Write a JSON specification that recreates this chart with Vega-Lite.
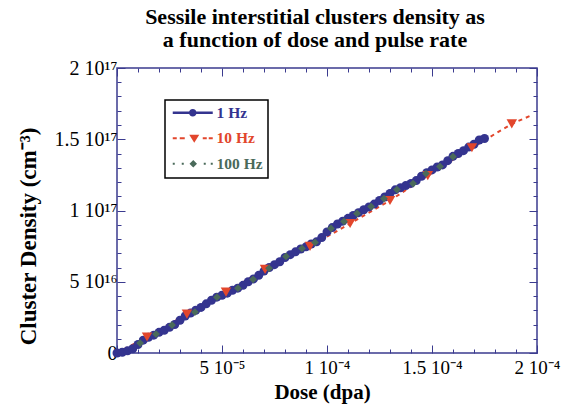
{
  "$schema": "https://vega.github.io/schema/vega-lite/v6.json",
  "width": 420,
  "height": 285,
  "autosize": {"type": "none"},
  "padding": {"left": 117, "top": 68, "right": 33, "bottom": 52},
  "background": "white",
  "title": {
    "text": ["Sessile interstitial clusters density as", " a function of dose and pulse rate"],
    "font": "Liberation Serif", "fontSize": 22, "fontWeight": "bold", "color": "black",
    "lineHeight": 23, "anchor": "middle", "dx": -12, "offset": 6
  },
  "config": {
    "view": {"stroke": "#3b3b8f", "strokeWidth": 1.5},
    "axis": {
      "domain": false, "grid": false, "tickColor": "#3b3b8f", "tickWidth": 1,
      "labelFont": "Liberation Serif", "labelFontSize": 20, "labelColor": "black",
      "labelOverlap": false, "labelFlush": false, "labelBound": false,
      "titleFont": "Liberation Serif", "titleFontSize": 21, "titleFontWeight": "bold", "titleColor": "black"
    },
    "legend": {
      "orient": "none", "legendX": 48, "legendY": 32, "padding": 5,
      "strokeColor": "black", "fillColor": "white",
      "labelFont": "Liberation Serif", "labelFontSize": 15.5, "labelFontWeight": "bold",
      "symbolSize": 100, "labelOffset": 31, "rowPadding": 8.5
    }
  },
  "data": {
    "values": [
      {"series": "1 Hz", "dose": 0, "density": 0},
      {"series": "1 Hz", "dose": 2.5e-6, "density": 5e14},
      {"series": "1 Hz", "dose": 5e-6, "density": 1.5e15},
      {"series": "1 Hz", "dose": 7.5e-6, "density": 3e15},
      {"series": "1 Hz", "dose": 1e-5, "density": 6e15},
      {"series": "1 Hz", "dose": 1.25e-5, "density": 9e15},
      {"series": "1 Hz", "dose": 1.5e-5, "density": 1.1e16},
      {"series": "1 Hz", "dose": 1.75e-5, "density": 1.25e16},
      {"series": "1 Hz", "dose": 2e-5, "density": 1.45e16},
      {"series": "1 Hz", "dose": 2.25e-5, "density": 1.6e16},
      {"series": "1 Hz", "dose": 2.5e-5, "density": 1.8e16},
      {"series": "1 Hz", "dose": 2.75e-5, "density": 2.0e16},
      {"series": "1 Hz", "dose": 3e-5, "density": 2.3e16},
      {"series": "1 Hz", "dose": 3.25e-5, "density": 2.6e16},
      {"series": "1 Hz", "dose": 3.5e-5, "density": 2.8e16},
      {"series": "1 Hz", "dose": 3.75e-5, "density": 3.0e16},
      {"series": "1 Hz", "dose": 4e-5, "density": 3.2e16},
      {"series": "1 Hz", "dose": 4.25e-5, "density": 3.45e16},
      {"series": "1 Hz", "dose": 4.5e-5, "density": 3.7e16},
      {"series": "1 Hz", "dose": 4.75e-5, "density": 3.92e16},
      {"series": "1 Hz", "dose": 5e-5, "density": 4.05e16},
      {"series": "1 Hz", "dose": 5.25e-5, "density": 4.2e16},
      {"series": "1 Hz", "dose": 5.5e-5, "density": 4.4e16},
      {"series": "1 Hz", "dose": 5.75e-5, "density": 4.55e16},
      {"series": "1 Hz", "dose": 6e-5, "density": 4.75e16},
      {"series": "1 Hz", "dose": 6.25e-5, "density": 5.0e16},
      {"series": "1 Hz", "dose": 6.5e-5, "density": 5.2e16},
      {"series": "1 Hz", "dose": 6.75e-5, "density": 5.45e16},
      {"series": "1 Hz", "dose": 7e-5, "density": 5.75e16},
      {"series": "1 Hz", "dose": 7.25e-5, "density": 6.0e16},
      {"series": "1 Hz", "dose": 7.5e-5, "density": 6.2e16},
      {"series": "1 Hz", "dose": 7.75e-5, "density": 6.4e16},
      {"series": "1 Hz", "dose": 8e-5, "density": 6.7e16},
      {"series": "1 Hz", "dose": 8.25e-5, "density": 6.9e16},
      {"series": "1 Hz", "dose": 8.5e-5, "density": 7.1e16},
      {"series": "1 Hz", "dose": 8.75e-5, "density": 7.3e16},
      {"series": "1 Hz", "dose": 9e-5, "density": 7.45e16},
      {"series": "1 Hz", "dose": 9.25e-5, "density": 7.65e16},
      {"series": "1 Hz", "dose": 9.5e-5, "density": 7.8e16},
      {"series": "1 Hz", "dose": 9.75e-5, "density": 8.1e16},
      {"series": "1 Hz", "dose": 1e-4, "density": 8.5e16},
      {"series": "1 Hz", "dose": 1.025e-4, "density": 8.8e16},
      {"series": "1 Hz", "dose": 1.05e-4, "density": 9.05e16},
      {"series": "1 Hz", "dose": 1.075e-4, "density": 9.25e16},
      {"series": "1 Hz", "dose": 1.1e-4, "density": 9.45e16},
      {"series": "1 Hz", "dose": 1.125e-4, "density": 9.65e16},
      {"series": "1 Hz", "dose": 1.15e-4, "density": 9.85e16},
      {"series": "1 Hz", "dose": 1.175e-4, "density": 1.005e17},
      {"series": "1 Hz", "dose": 1.2e-4, "density": 1.025e17},
      {"series": "1 Hz", "dose": 1.225e-4, "density": 1.045e17},
      {"series": "1 Hz", "dose": 1.25e-4, "density": 1.07e17},
      {"series": "1 Hz", "dose": 1.275e-4, "density": 1.095e17},
      {"series": "1 Hz", "dose": 1.3e-4, "density": 1.12e17},
      {"series": "1 Hz", "dose": 1.325e-4, "density": 1.145e17},
      {"series": "1 Hz", "dose": 1.35e-4, "density": 1.16e17},
      {"series": "1 Hz", "dose": 1.375e-4, "density": 1.175e17},
      {"series": "1 Hz", "dose": 1.4e-4, "density": 1.19e17},
      {"series": "1 Hz", "dose": 1.425e-4, "density": 1.21e17},
      {"series": "1 Hz", "dose": 1.45e-4, "density": 1.24e17},
      {"series": "1 Hz", "dose": 1.475e-4, "density": 1.265e17},
      {"series": "1 Hz", "dose": 1.5e-4, "density": 1.285e17},
      {"series": "1 Hz", "dose": 1.525e-4, "density": 1.305e17},
      {"series": "1 Hz", "dose": 1.55e-4, "density": 1.32e17},
      {"series": "1 Hz", "dose": 1.575e-4, "density": 1.35e17},
      {"series": "1 Hz", "dose": 1.6e-4, "density": 1.38e17},
      {"series": "1 Hz", "dose": 1.625e-4, "density": 1.4e17},
      {"series": "1 Hz", "dose": 1.65e-4, "density": 1.42e17},
      {"series": "1 Hz", "dose": 1.675e-4, "density": 1.445e17},
      {"series": "1 Hz", "dose": 1.7e-4, "density": 1.465e17},
      {"series": "1 Hz", "dose": 1.725e-4, "density": 1.495e17},
      {"series": "1 Hz", "dose": 1.75e-4, "density": 1.505e17},
      {"series": "10 Hz", "dose": 0, "density": 0},
      {"series": "10 Hz", "dose": 1.43e-5, "density": 1.12e16},
      {"series": "10 Hz", "dose": 3.33e-5, "density": 2.73e16},
      {"series": "10 Hz", "dose": 5.19e-5, "density": 4.27e16},
      {"series": "10 Hz", "dose": 7.05e-5, "density": 5.87e16},
      {"series": "10 Hz", "dose": 9.19e-5, "density": 7.48e16},
      {"series": "10 Hz", "dose": 1.11e-4, "density": 9.09e16},
      {"series": "10 Hz", "dose": 1.3e-4, "density": 1.07e17},
      {"series": "10 Hz", "dose": 1.48e-4, "density": 1.245e17},
      {"series": "10 Hz", "dose": 1.69e-4, "density": 1.44e17},
      {"series": "10 Hz", "dose": 1.88e-4, "density": 1.608e17},
      {"series": "10 Hz", "dose": 1.967e-4, "density": 1.664e17},
      {"series": "100 Hz", "dose": 0, "density": 0},
      {"series": "100 Hz", "dose": 1.1e-5, "density": 7.0e15},
      {"series": "100 Hz", "dose": 1.86e-5, "density": 1.33e16},
      {"series": "100 Hz", "dose": 2.62e-5, "density": 1.96e16},
      {"series": "100 Hz", "dose": 3.71e-5, "density": 2.87e16},
      {"series": "100 Hz", "dose": 4.76e-5, "density": 3.92e16},
      {"series": "100 Hz", "dose": 5.76e-5, "density": 4.55e16},
      {"series": "100 Hz", "dose": 6.48e-5, "density": 5.17e16},
      {"series": "100 Hz", "dose": 7.24e-5, "density": 5.94e16},
      {"series": "100 Hz", "dose": 8.05e-5, "density": 6.78e16},
      {"series": "100 Hz", "dose": 8.81e-5, "density": 7.34e16},
      {"series": "100 Hz", "dose": 9.43e-5, "density": 7.76e16},
      {"series": "100 Hz", "dose": 1.019e-4, "density": 8.74e16},
      {"series": "100 Hz", "dose": 1.081e-4, "density": 9.23e16},
      {"series": "100 Hz", "dose": 1.143e-4, "density": 9.79e16},
      {"series": "100 Hz", "dose": 1.21e-4, "density": 1.028e17},
      {"series": "100 Hz", "dose": 1.271e-4, "density": 1.084e17},
      {"series": "100 Hz", "dose": 1.333e-4, "density": 1.147e17},
      {"series": "100 Hz", "dose": 1.41e-4, "density": 1.189e17},
      {"series": "100 Hz", "dose": 1.471e-4, "density": 1.259e17},
      {"series": "100 Hz", "dose": 1.538e-4, "density": 1.308e17},
      {"series": "100 Hz", "dose": 1.6e-4, "density": 1.378e17}
    ]
  },
  "resolve": {"axis": {"x": "independent", "y": "independent"}},
  "layer": [
    {
      "transform": [{"filter": "datum.series === '10 Hz'"}],
      "mark": {"type": "line", "strokeWidth": 2, "strokeDash": [4, 4]},
      "encoding": {
        "x": {
          "field": "dose", "type": "quantitative",
          "scale": {"domain": [0, 0.0002], "nice": false},
          "axis": {
            "orient": "bottom", "title": "Dose (dpa)", "titleY": 45, "titleBaseline": "alphabetic", "titleX": 205,
            "values": [0, 1e-5, 2e-5, 3e-5, 4e-5, 5e-5, 6e-5, 7e-5, 8e-5, 9e-5, 1e-4, 1.1e-4, 1.2e-4, 1.3e-4, 1.4e-4, 1.5e-4, 1.6e-4, 1.7e-4, 1.8e-4, 1.9e-4, 2e-4],
            "tickSize": {"condition": {"test": "round(datum.value/1e-5) % 5 === 0", "value": -8}, "value": -4},
            "labelPadding": 13, "labelFontSize": 19,
            "labelExpr": "round(datum.value/1e-5) === 5 ? '5 10⁻⁵' : round(datum.value/1e-5) === 10 ? '1 10⁻⁴' : round(datum.value/1e-5) === 15 ? '1.5 10⁻⁴' : round(datum.value/1e-5) === 20 ? '2 10⁻⁴' : ''"
          }
        },
        "y": {
          "field": "density", "type": "quantitative",
          "scale": {"domain": [0, 2e17], "nice": false},
          "axis": {
            "orient": "left", "title": "Cluster Density (cm⁻³)", "titleFontSize": 23, "titleX": -89, "titleY": 168, "titleAngle": -90, "titleAlign": "center", "titleBaseline": "middle",
            "values": [0, 1e16, 2e16, 3e16, 4e16, 5e16, 6e16, 7e16, 8e16, 9e16, 1e17, 1.1e17, 1.2e17, 1.3e17, 1.4e17, 1.5e17, 1.6e17, 1.7e17, 1.8e17, 1.9e17, 2e17],
            "tickSize": {"condition": {"test": "round(datum.value/1e16) % 5 === 0", "value": -8}, "value": -4},
            "labelPadding": 8,
            "labelExpr": "round(datum.value/1e16) === 0 ? '0' : round(datum.value/1e16) === 5 ? '5 10¹⁶' : round(datum.value/1e16) === 10 ? '1 10¹⁷' : round(datum.value/1e16) === 15 ? '1.5 10¹⁷' : round(datum.value/1e16) === 20 ? '2 10¹⁷' : ''"
          }
        },
        "color": {
          "field": "series", "type": "nominal",
          "scale": {"domain": ["1 Hz", "10 Hz", "100 Hz"], "range": ["#34348f", "#e2462c", "#4a6a5a"]},
          "legend": {
            "title": null,
            "encode": {
              "symbols": {"update": {
                "shape": {"signal": "datum.value === '1 Hz' ? 'M-1,-0.27H7V0.27H-1Z M3.75,0A0.75,0.75 0 1,1 2.25,0A0.75,0.75 0 1,1 3.75,0Z' : datum.value === '10 Hz' ? 'M-1,-0.2H-0.2V0.2H-1Z M0.4,-0.2H1.4V0.2H0.4Z M5,-0.2H5.8V0.2H5Z M6.2,-0.2H7V0.2H6.2Z M2.3,-0.7H4.3L3.3,0.9Z' : 'M-1,-0.2H-0.6V0.2H-1Z M0.8,-0.2H1.2V0.2H0.8Z M5.2,-0.2H5.6V0.2H5.2Z M6.6,-0.2H7V0.2H6.6Z M3.1,-0.75L3.85,0L3.1,0.75L2.35,0Z'"},
                "fill": {"signal": "datum.value === '1 Hz' ? '#34348f' : datum.value === '10 Hz' ? '#e2462c' : '#4a6a5a'"},
                "fillOpacity": {"value": 1},
                "opacity": {"value": 1},
                "stroke": {"value": "transparent"},
                "strokeWidth": {"value": 0},
                "strokeDash": {"value": [1, 0]}
              }},
              "labels": {"update": {
                "fill": {"signal": "datum.value === '1 Hz' ? '#34348f' : datum.value === '10 Hz' ? '#e2462c' : '#4a6a5a'"}
              }},
              "legend": {"update": {"strokeWidth": {"value": 1.5}}}
            }
          }
        }
      }
    },
    {
      "transform": [{"filter": "datum.series === '100 Hz'"}],
      "mark": {"type": "line", "strokeWidth": 2, "strokeDash": [1.5, 4], "color": "#4a6a5a"},
      "encoding": {
        "x": {"field": "dose", "type": "quantitative", "axis": null},
        "y": {"field": "density", "type": "quantitative", "axis": null}
      }
    },
    {
      "transform": [{"filter": "datum.series === '1 Hz'"}],
      "mark": {"type": "line", "strokeWidth": 4, "color": "#34348f"},
      "encoding": {
        "x": {"field": "dose", "type": "quantitative", "axis": null},
        "y": {"field": "density", "type": "quantitative", "axis": null}
      }
    },
    {
      "transform": [{"filter": "datum.series === '1 Hz'"}],
      "mark": {"type": "point", "shape": "circle", "filled": true, "size": 81, "opacity": 1, "color": "#34348f"},
      "encoding": {
        "x": {"field": "dose", "type": "quantitative", "axis": null},
        "y": {"field": "density", "type": "quantitative", "axis": null}
      }
    },
    {
      "transform": [{"filter": "datum.series === '10 Hz' && datum.dose > 0 && datum.dose < 1.95e-4"}],
      "mark": {"type": "point", "shape": "triangle-down", "filled": true, "size": 110, "opacity": 1, "color": "#e2462c"},
      "encoding": {
        "x": {"field": "dose", "type": "quantitative", "axis": null},
        "y": {"field": "density", "type": "quantitative", "axis": null}
      }
    },
    {
      "transform": [{"filter": "datum.series === '100 Hz' && datum.dose > 0"}],
      "mark": {"type": "point", "shape": "diamond", "filled": true, "size": 60, "opacity": 1, "color": "#4a6a5a"},
      "encoding": {
        "x": {"field": "dose", "type": "quantitative", "axis": null},
        "y": {"field": "density", "type": "quantitative", "axis": null}
      }
    },
    {
      "mark": {"type": "point", "opacity": 0},
      "encoding": {
        "x": {
          "field": "dose", "type": "quantitative",
          "scale": {"domain": [0, 0.0002], "nice": false},
          "axis": {
            "orient": "top", "title": null, "labels": false,
            "values": [0, 1e-5, 2e-5, 3e-5, 4e-5, 5e-5, 6e-5, 7e-5, 8e-5, 9e-5, 1e-4, 1.1e-4, 1.2e-4, 1.3e-4, 1.4e-4, 1.5e-4, 1.6e-4, 1.7e-4, 1.8e-4, 1.9e-4, 2e-4],
            "tickSize": {"condition": {"test": "round(datum.value/1e-5) % 5 === 0", "value": -8}, "value": -4}
          }
        },
        "y": {
          "field": "density", "type": "quantitative",
          "scale": {"domain": [0, 2e17], "nice": false},
          "axis": {
            "orient": "right", "title": null, "labels": false,
            "values": [0, 1e16, 2e16, 3e16, 4e16, 5e16, 6e16, 7e16, 8e16, 9e16, 1e17, 1.1e17, 1.2e17, 1.3e17, 1.4e17, 1.5e17, 1.6e17, 1.7e17, 1.8e17, 1.9e17, 2e17],
            "tickSize": {"condition": {"test": "round(datum.value/1e16) % 5 === 0", "value": -8}, "value": -4}
          }
        }
      }
    }
  ]
}
